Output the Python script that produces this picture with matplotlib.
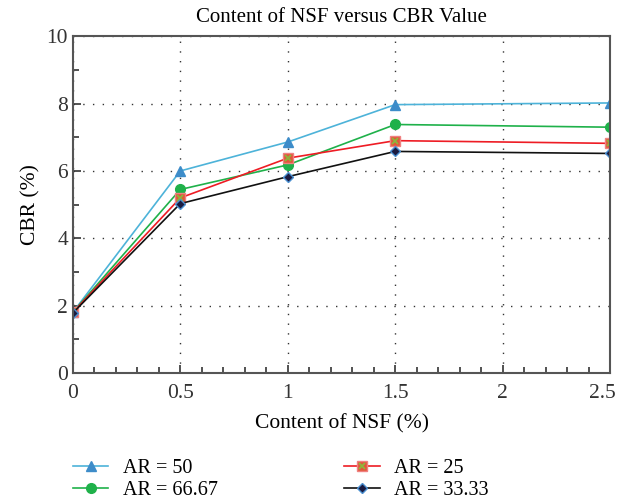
import numpy as np
import matplotlib.pyplot as plt
import matplotlib.transforms as mtransforms
from matplotlib.ticker import MultipleLocator

plt.rcParams['font.family'] = ['Liberation Serif', 'DejaVu Serif']

# Content of NSF (%)
nsf = [0, 0.5, 1, 1.5, 2.5]

# CBR (%) for each aspect ratio
cbr_ar50 = [1.8, 6.0, 6.86, 7.97, 8.02]
cbr_ar6667 = [1.8, 5.45, 6.18, 7.38, 7.30]
cbr_ar25 = [1.8, 5.20, 6.38, 6.90, 6.82]
cbr_ar3333 = [1.78, 5.03, 5.83, 6.58, 6.52]

fig = plt.figure(figsize=(6.17, 5.04), dpi=100)
ax = fig.add_axes([0.118, 0.26, 0.871, 0.668])

l1, = ax.plot(nsf, cbr_ar50, '-', color='#4db3d9', lw=1.2, marker='^', ms=7,
              mfc='#3d8cc9', mec='#3d8cc9', label='AR = 50')
l2, = ax.plot(nsf, cbr_ar6667, '-', color='#1fb14a', lw=1.2, marker='o', ms=7,
              mfc='#1fb14a', mec='#1fb14a', label='AR = 66.67')
l3, = ax.plot(nsf, cbr_ar25, '-', color='#ee1c24', lw=1.2, marker='s', ms=7,
              mfc='#e0583a', mec='#f08080', label='AR = 25')
l3x, = ax.plot(nsf, cbr_ar25, ls='none', marker='x', ms=5, mew=1.3, color='#8db63c')
l4, = ax.plot(nsf, cbr_ar3333, '-', color='#111111', lw=1.2, marker='D', ms=5,
              mfc='#1a1a40', mec='#4a8fd0', label='AR = 33.33')

ax.set_xlim(0, 2.5)
ax.set_ylim(0, 10)
ax.xaxis.set_minor_locator(MultipleLocator(0.1))
ax.yaxis.set_major_locator(MultipleLocator(2))
ax.yaxis.set_minor_locator(MultipleLocator(1))
ax.set_xticks([0, 0.5, 1, 1.5, 2, 2.5])
ax.set_xticklabels(['0', '0.5', '1', '1.5', '2', '2.5'])
ax.tick_params(which='both', direction='in', labelsize=15.5, colors='#333333')
ax.tick_params(which='major', length=6, width=1.2)
ax.tick_params(which='minor', length=4, width=1.2)
ax.tick_params(axis='x', pad=8)
for s in ax.spines.values():
    s.set_color('#555555')
    s.set_linewidth(1.5)
ax.grid(True, which='major', ls=(0, (1, 6)), color='#333333', lw=1)

# last x label sits a little left of its tick, as in the source
last = ax.get_xticklabels()[-1]
last.set_transform(last.get_transform() +
                   mtransforms.ScaledTranslation(-8 / 100, 0, fig.dpi_scale_trans))

ax.set_title('Content of NSF versus CBR Value', fontsize=15, pad=10)
ax.set_xlabel('Content of NSF (%)', fontsize=15.5, labelpad=8)
ax.set_ylabel('CBR (%)', fontsize=15.5)

fig.legend([l1, l2, (l3, l3x), l4], ['AR = 50', 'AR = 66.67', 'AR = 25', 'AR = 33.33'],
           loc='lower center', bbox_to_anchor=(0.455, -0.028), ncol=2, frameon=False,
           fontsize=14.5, columnspacing=6.3, handlelength=1.75, handletextpad=0.7,
           labelspacing=0.15)

fig.savefig('out.png', dpi=100)
